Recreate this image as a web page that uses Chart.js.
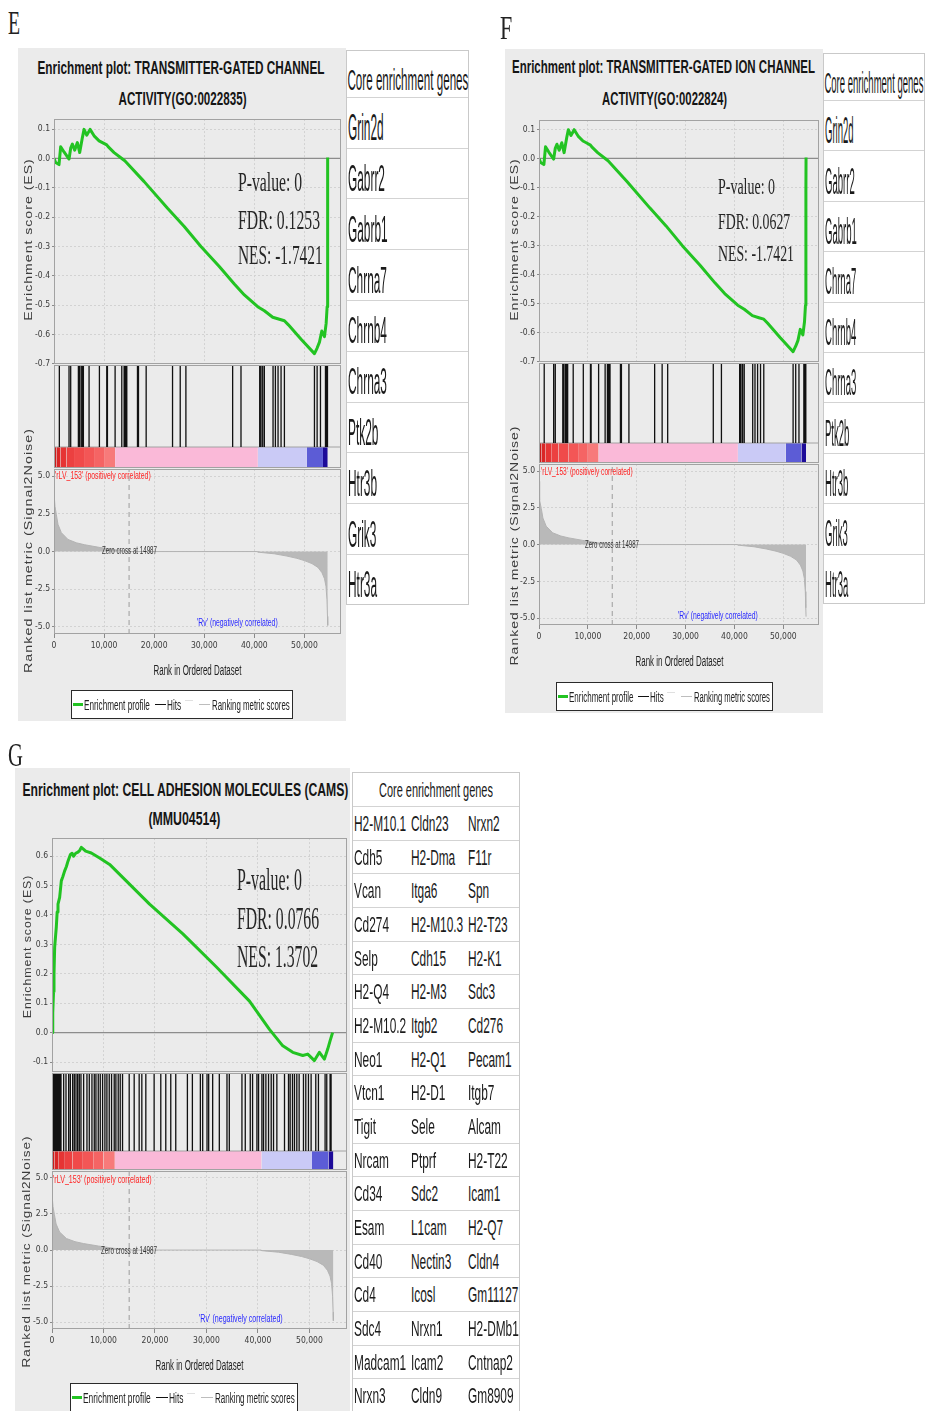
<!DOCTYPE html>
<html>
<head>
<meta charset="utf-8">
<title>GSEA enrichment plots</title>
<script src="https://cdn.jsdelivr.net/npm/chart.js@4.4.1/dist/chart.umd.min.js"></script>
<style>
  html, body { margin: 0; padding: 0; background: #ffffff; }
  body { position: relative; width: 926px; height: 1411px; overflow: hidden; }
  .panel { position: absolute; background: #ebebeb; }
  .t { position: absolute; white-space: nowrap; }
  canvas { position: absolute; }
  .gt { position: absolute; border: 1px solid #c9c9c9; background: #fff; box-sizing: border-box; }
  .rule { position: absolute; height: 0; border-top: 1.5px solid #d3d3d3; }
  .legend { position: absolute; background: #fff; border: 1.5px solid #2a2a2a; box-sizing: border-box; }
</style>
</head>
<body>
<script>
// ---------- ranked gene list (shared by every gene set) ----------
const metricRank  = [0, 60, 200, 470, 800, 1470, 2800, 4470, 6130, 9000, 12000, 14987, 40650, 40700, 44000, 46500, 48500, 50000, 51500, 52700, 53500, 54000, 54300, 54500, 54600, 54650];
const metricScore = [4.3, 3.6, 3.0, 2.45, 1.8, 1.25, 0.8, 0.58, 0.45, 0.28, 0.12, 0, 0, -0.04, -0.15, -0.3, -0.45, -0.6, -0.8, -1.05, -1.4, -1.8, -2.3, -3.2, -4.3, -4.9];
const zeroCross = 14987;
const bandStart = [0, 500, 1300, 2500, 4000, 6000, 8000, 10000, 12200, 40700, 50500, 53700];
const bandEnd   = [500, 1300, 2500, 4000, 6000, 8000, 10000, 12200, 40700, 50500, 53700, 54650];
const bandColor = ['#c81c1c', '#da2626', '#e63434', '#ec4040', '#f04a4a', '#f35656', '#f56464', '#f77a7a', '#fab9d8', '#cacaf6', '#5c5cd6', '#1d0b99'];
const rankTicks = [0, 10000, 20000, 30000, 40000, 50000];
const metricTicks = [5, 2.5, 0, -2.5, -5];

// ---------- E: transmitter-gated channel activity ----------
const channelTitle = ['Enrichment plot: TRANSMITTER-GATED CHANNEL', 'ACTIVITY(GO:0022835)'];
const channelStats = ['P-value: 0', 'FDR: 0.1253', 'NES: -1.7421'];
const channelEsTicks = [0.1, 0, -0.1, -0.2, -0.3, -0.4, -0.5, -0.6, -0.7];
const channelEsRank  = [0, 333, 1000, 1333, 2000, 3000, 3333, 3667, 4133, 4667, 5133, 5667, 6000, 6533, 7200, 8000, 9000, 9667, 10533, 10800, 12000, 13667, 14133, 18000, 22667, 26000, 29333, 33000, 36000, 38000, 40667, 42000, 43667, 45000, 46000, 46800, 49333, 52000, 52533, 53000, 53467, 54000, 54333, 54533, 54620, 54650];
const channelEsScore = [0, -0.014, -0.021, 0.040, 0.022, -0.002, 0.035, 0.049, 0.028, 0.054, 0.020, 0.071, 0.099, 0.079, 0.099, 0.077, 0.060, 0.054, 0.046, 0.040, 0.020, -0.002, -0.008, -0.079, -0.170, -0.232, -0.300, -0.368, -0.428, -0.465, -0.505, -0.519, -0.541, -0.548, -0.553, -0.567, -0.616, -0.665, -0.646, -0.626, -0.588, -0.607, -0.562, -0.505, -0.115, 0.003];
const channelHits = [1067, 3000, 3333, 4867, 5067, 5400, 5667, 5867, 7000, 9067, 10533, 10667, 12200, 13533, 14000, 14200, 14400, 14533, 16667, 16867, 18400, 23667, 25200, 26333, 35667, 37333, 41067, 41333, 41667, 42000, 43733, 44200, 44733, 45333, 46000, 52000, 52533, 53200, 54200, 54400, 54600];
const channelGenes = ['Grin2d', 'Gabrr2', 'Gabrb1', 'Chrna7', 'Chrnb4', 'Chrna3', 'Ptk2b', 'Htr3b', 'Grik3', 'Htr3a'];

// ---------- F: transmitter-gated ion channel activity ----------
const ionTitle = ['Enrichment plot: TRANSMITTER-GATED ION CHANNEL', 'ACTIVITY(GO:0022824)'];
const ionStats = ['P-value: 0', 'FDR: 0.0627', 'NES: -1.7421'];
const ionEsTicks = [0.1, 0, -0.1, -0.2, -0.3, -0.4, -0.5, -0.6, -0.7];
const ionEsRank  = [0, 333, 1000, 1333, 2000, 3000, 3333, 3667, 4133, 4667, 5133, 5667, 6000, 6533, 7200, 8000, 9000, 9667, 10533, 10800, 12000, 13667, 14133, 18000, 22667, 26000, 29333, 33000, 36000, 38000, 40667, 42000, 43667, 45000, 46000, 46800, 49333, 52000, 52533, 53000, 53467, 54000, 54333, 54533, 54620, 54650];
const ionEsScore = [0, -0.014, -0.021, 0.040, 0.022, -0.002, 0.035, 0.049, 0.028, 0.054, 0.020, 0.071, 0.099, 0.079, 0.099, 0.077, 0.060, 0.054, 0.046, 0.040, 0.020, -0.002, -0.008, -0.079, -0.170, -0.232, -0.300, -0.368, -0.428, -0.465, -0.505, -0.519, -0.541, -0.548, -0.553, -0.567, -0.616, -0.665, -0.646, -0.626, -0.588, -0.607, -0.562, -0.505, -0.115, 0.003];
const ionHits = [1067, 3000, 3333, 4867, 5067, 5400, 5667, 5867, 7000, 9067, 10533, 10667, 12200, 13533, 14000, 14200, 14400, 14533, 16667, 16867, 18400, 23667, 25200, 26333, 35667, 37333, 41067, 41333, 41667, 42000, 43733, 44200, 44733, 45333, 46000, 52000, 52533, 53200, 54200, 54400, 54600];
const ionGenes = ['Grin2d', 'Gabrr2', 'Gabrb1', 'Chrna7', 'Chrnb4', 'Chrna3', 'Ptk2b', 'Htr3b', 'Grik3', 'Htr3a'];

// ---------- G: cell adhesion molecules ----------
const camsTitle = ['Enrichment plot: CELL ADHESION MOLECULES (CAMS)', '(MMU04514)'];
const camsStats = ['P-value: 0', 'FDR: 0.0766', 'NES: 1.3702'];
const camsEsTicks = [0.6, 0.5, 0.4, 0.3, 0.2, 0.1, 0, -0.1];
const camsEsRank  = [0, 100, 194, 300, 388, 517, 700, 841, 1000, 1164, 1488, 1811, 2100, 2458, 2800, 3105, 3558, 3900, 4204, 4600, 5045, 5400, 5692, 6100, 6533, 7633, 9250, 11190, 13778, 18952, 25420, 31888, 38357, 42238, 44825, 46766, 48706, 49676, 50970, 51940, 52910, 53557, 54010, 54500];
const camsEsScore = [0, 0.03, 0.067, 0.14, 0.2, 0.29, 0.33, 0.36, 0.41, 0.437, 0.46, 0.516, 0.53, 0.55, 0.565, 0.583, 0.605, 0.61, 0.6, 0.61, 0.614, 0.62, 0.63, 0.624, 0.617, 0.611, 0.594, 0.572, 0.527, 0.437, 0.336, 0.224, 0.107, 0.011, -0.045, -0.067, -0.078, -0.073, -0.095, -0.067, -0.09, -0.056, -0.028, 0.0];
const camsHits = [20, 200, 390, 580, 780, 970, 1160, 1360, 1550, 1750, 2267, 2720, 3236, 3560, 4011, 4335, 4658, 4981, 5304, 5627, 6144, 6790, 7242, 7759, 8211, 8534, 8986, 9374, 9826, 10277, 10665, 11118, 11570, 12087, 12410, 12862, 13250, 13702, 14994, 15963, 16932, 17449, 18224, 19839, 21131, 22100, 23069, 24038, 26299, 27268, 28818, 29270, 30111, 30433, 31208, 32500, 33987, 34439, 36894, 37539, 38508, 38960, 39801, 40123, 40770, 41092, 41545, 42060, 42578, 43029, 43676, 45161, 45937, 46260, 46711, 47099, 47552, 48004, 48843, 49296, 49813, 50330, 51235, 51751, 53045, 53369, 54015, 54209];
const camsGenesA = ['H2-M10.1', 'Cdh5', 'Vcan', 'Cd274', 'Selp', 'H2-Q4', 'H2-M10.2', 'Neo1', 'Vtcn1', 'Tigit', 'Nrcam', 'Cd34', 'Esam', 'Cd40', 'Cd4', 'Sdc4', 'Madcam1', 'Nrxn3'];
const camsGenesB = ['Cldn23', 'H2-Dma', 'Itga6', 'H2-M10.3', 'Cdh15', 'H2-M3', 'Itgb2', 'H2-Q1', 'H2-D1', 'Sele', 'Ptprf', 'Sdc2', 'L1cam', 'Nectin3', 'Icosl', 'Nrxn1', 'Icam2', 'Cldn9'];
const camsGenesC = ['Nrxn2', 'F11r', 'Spn', 'H2-T23', 'H2-K1', 'Sdc3', 'Cd276', 'Pecam1', 'Itgb7', 'Alcam', 'H2-T22', 'Icam1', 'H2-Q7', 'Cldn4', 'Gm11127', 'H2-DMb1', 'Cntnap2', 'Gm8909'];

// ---------- styling ----------
const NARROW = '"Liberation Sans Narrow", "DejaVu Sans Condensed", "Liberation Sans", sans-serif';
const SANS = '"Liberation Sans", Arial, sans-serif';
const SERIF = '"Liberation Serif", "DejaVu Serif", serif';
const GREEN = '#22c322';
const GRID = '#d2d2d2';
const FRAME = '#a2a2a2';
const XMAX = 57300;
const AXW = 30;      // width reserved for y tick labels
const XAH = 22;      // height reserved below the metric plot for tick marks and labels
const METRIC_LIM = 5.47;

// stroke the plot rectangle of every chart
Chart.register({
  id: 'frame',
  afterDraw(chart) {
    const a = chart.chartArea, c = chart.ctx;
    c.save();
    c.strokeStyle = FRAME;
    c.lineWidth = 1;
    c.strokeRect(Math.round(a.left) + 0.5, Math.round(a.top) + 0.5, Math.round(a.right - a.left) - 1, Math.round(a.bottom - a.top) - 1);
    c.restore();
  }
});

function put(str, o) {
  const el = document.createElement('div');
  el.className = 't';
  el.textContent = str;
  el.style.font = o.font;
  el.style.lineHeight = '1';
  el.style.color = o.color || '#111';
  if (o.ls) el.style.letterSpacing = o.ls + 'px';
  document.body.appendChild(el);
  const w = el.offsetWidth, h = el.offsetHeight;
  const sx = o.w ? o.w / w : (o.sx || 1);
  const centred = o.cx !== undefined;
  el.style.left = (centred ? o.cx - w / 2 : o.x) + 'px';
  el.style.top = (o.cy - h / 2) + 'px';
  el.style.transformOrigin = centred ? '50% 50%' : '0 50%';
  el.style.transform = (o.rot ? 'rotate(-90deg) ' : '') + 'scaleX(' + sx + ')';
  return el;
}

function block(cls, x, y, w, h) {
  const d = document.createElement('div');
  d.className = cls;
  Object.assign(d.style, { left: x + 'px', top: y + 'px', width: w + 'px', height: h + 'px' });
  document.body.appendChild(d);
  return d;
}

function canvasAt(x, y, w, h) {
  const c = document.createElement('canvas');
  c.width = Math.round(w);
  c.height = Math.round(h);
  Object.assign(c.style, { left: x + 'px', top: y + 'px', width: Math.round(w) + 'px', height: Math.round(h) + 'px' });
  document.body.appendChild(c);
  return c;
}

function baseOptions(extra) {
  return Object.assign({
    responsive: false,
    animation: false,
    events: [],
    plugins: { legend: { display: false }, tooltip: { enabled: false } },
    elements: { point: { radius: 0 }, line: { tension: 0 } }
  }, extra);
}

const tickFont = { family: NARROW, size: 8.5 };

function rankAxis(showLabels) {
  return {
    type: 'linear', min: 0, max: XMAX,
    afterBuildTicks: s => { s.ticks = rankTicks.map(v => ({ value: v })); },
    afterFit: s => { s.height = showLabels ? XAH : 0; },
    grid: { color: GRID, drawTicks: showLabels, tickLength: 4, tickColor: '#8a8a8a' },
    border: { display: false, dash: [2, 2] },
    ticks: { display: showLabels, font: tickFont, color: '#3a3a3a', padding: 3, autoSkip: false, maxRotation: 0,
             callback: v => v.toLocaleString('en-US') }
  };
}

function valueAxis(min, max, ticks) {
  return {
    type: 'linear', min: min, max: max,
    afterFit: s => { s.width = AXW; },
    afterBuildTicks: s => { s.ticks = ticks.map(v => ({ value: v })); },
    grid: { color: GRID, tickLength: 2, tickColor: '#8a8a8a' },
    border: { display: false, dash: [2, 2] },
    ticks: { font: tickFont, color: '#3a3a3a', padding: 2, callback: v => v.toFixed(1) }
  };
}

function esChart(L, D) {
  const pw = L.right - L.left, ph = L.esBottom - L.esTop;
  const cv = canvasAt(L.left - AXW, L.esTop - 6, pw + AXW + 2, ph + 12);
  new Chart(cv, {
    type: 'line',
    data: { datasets: [
      { data: D.esRank.map((r, i) => ({ x: r, y: D.esScore[i] })), borderColor: GREEN, borderWidth: 3, borderJoinStyle: 'round', pointRadius: 0, order: 0 },
      { data: [{ x: 0, y: 0 }, { x: XMAX, y: 0 }], borderColor: '#8c8c8c', borderWidth: 1.3, pointRadius: 0, order: 1 }
    ] },
    options: baseOptions({
      layout: { padding: { top: 6, right: 2, bottom: 6, left: 0 } },
      scales: { x: rankAxis(false), y: valueAxis(L.esMin, L.esMax, D.esTicks) }
    })
  });
}

function hitsChart(L, D) {
  const pw = L.right - L.left, ph = L.bandBottom - L.esBottom;
  const yMax = ph / (L.bandBottom - L.hitsBottom);   // colour band occupies y 0..1
  const cv = canvasAt(L.left, L.esBottom, pw, ph);
  const hitPoints = [];
  D.hits.forEach(h => { hitPoints.push({ x: h, y: 1 }, { x: h, y: yMax }, { x: h, y: null }); });
  const datasets = [
    { data: hitPoints, borderColor: '#111', borderWidth: 1.3, spanGaps: false, pointRadius: 0, order: 0 },
    { data: [{ x: 0, y: 1 }, { x: XMAX, y: 1 }], borderColor: FRAME, borderWidth: 1, pointRadius: 0, order: 1 }
  ];
  bandStart.forEach((s, i) => {
    datasets.push({ data: [{ x: s, y: 1 }, { x: bandEnd[i], y: 1 }], fill: 'origin', backgroundColor: bandColor[i], borderWidth: 0, pointRadius: 0, order: 2 });
  });
  new Chart(cv, {
    type: 'line',
    data: { datasets },
    options: baseOptions({
      layout: { padding: 0 },
      scales: {
        x: { type: 'linear', display: false, min: 0, max: XMAX },
        y: { type: 'linear', display: false, min: 0, max: yMax }
      }
    })
  });
}

function metricChart(L) {
  const pw = L.right - L.left, ph = L.metricBottom - L.bandBottom;
  const cv = canvasAt(L.left - AXW, L.bandBottom - 6, pw + AXW + 2, ph + 6 + XAH);
  new Chart(cv, {
    type: 'line',
    data: { datasets: [
      { data: metricRank.map((r, i) => ({ x: r, y: metricScore[i] })), fill: 'origin', backgroundColor: '#b9b9b9', borderColor: '#b3b3b3', borderWidth: 1, pointRadius: 0, order: 1 },
      { data: [{ x: zeroCross, y: -METRIC_LIM }, { x: zeroCross, y: METRIC_LIM }], borderColor: '#9c9c9c', borderWidth: 1, borderDash: [5, 4], pointRadius: 0, order: 0 }
    ] },
    options: baseOptions({
      layout: { padding: { top: 6, right: 2, bottom: 0, left: 0 } },
      scales: { x: rankAxis(true), y: valueAxis(-METRIC_LIM, METRIC_LIM, metricTicks) }
    })
  });
}

function legend(x, y, w, h) {
  block('legend', x, y, w, h);
  const k = w / 222, cy = y + h / 2;
  const seg = (a, b, color, thick, dy) => {
    const s = block('t', x + a * k, cy + (dy || 0) - thick / 2, (b - a) * k, thick);
    s.style.background = color;
  };
  const f = '14px ' + SANS;
  seg(2, 12, GREEN, 3);
  put('Enrichment profile', { font: f, x: x + 13 * k, cy: cy, w: 66 * k, color: '#222' });
  seg(84, 95, '#111', 1.5);
  put('Hits', { font: f, x: x + 96 * k, cy: cy, w: 14 * k, color: '#222' });
  seg(114, 122, '#e0e0e0', 1, -4);
  seg(128, 139, '#bdbdbd', 1.5);
  put('Ranking metric scores', { font: f, x: x + 141 * k, cy: cy, w: 78 * k, color: '#222' });
}

function geneTable(o) {
  const n = o.cols[0].length;
  block('gt', o.x, o.y, o.w, o.headH + n * o.rowH);
  for (let i = 0; i < n; i++) {
    block('rule', o.x + 1, o.y + o.headH + i * o.rowH, o.w - 2, 0);
  }
  put(o.header, { font: o.headFont, cx: o.x + o.w / 2, cy: o.y + o.headH * o.headY, w: o.headW, color: '#1a1a1a' });
  o.cols.forEach((col, j) => col.forEach((g, i) => {
    put(g, { font: o.font, x: o.x + o.colX[j], cy: o.y + o.headH + i * o.rowH + o.rowH * o.textY, sx: o.sx, color: '#1a1a1a' });
  }));
}

function buildPanel(L, D) {
  block('panel', L.bg[0], L.bg[1], L.bg[2], L.bg[3]);
  esChart(L, D);
  hitsChart(L, D);
  metricChart(L);
  put(D.title[0], { font: 'bold 19px ' + SANS, cx: L.t1[0], cy: L.t1[1], w: L.t1[2], color: '#151515' });
  put(D.title[1], { font: 'bold 19px ' + SANS, cx: L.t2[0], cy: L.t2[1], w: L.t2[2], color: '#151515' });
  D.stats.forEach((s, i) => put(s, { font: L.statSize + 'px ' + SERIF, x: L.statX, cy: L.statY[i], w: L.statW[i], color: '#262626' }));
  put('Enrichment score (ES)', { font: '11px ' + SANS, ls: 0.8, cx: L.esTitle[0], cy: L.esTitle[1], w: L.esTitle[2], rot: true, color: '#3a3a3a' });
  put('Ranked list metric (Signal2Noise)', { font: '11px ' + SANS, ls: 0.8, cx: L.mTitle[0], cy: L.mTitle[1], w: L.mTitle[2], rot: true, color: '#3a3a3a' });
  put('Rank in Ordered Dataset', { font: '14px ' + SANS, cx: (L.left + L.right) / 2, cy: L.metricBottom + 36, w: 88, color: '#222' });
  put("'rLV_153' (positively correlated)", { font: '11px ' + SANS, x: L.pos[0], cy: L.pos[1], w: L.pos[2], color: '#ff2424' });
  put("'Rv' (negatively correlated)", { font: '11px ' + SANS, x: L.neg[0], cy: L.neg[1], w: L.neg[2], color: '#2828ff' });
  put('Zero cross at ' + zeroCross, { font: '10px ' + SANS, x: L.zero[0], cy: L.zero[1], w: L.zero[2], color: '#333' });
  legend(L.legend[0], L.legend[1], L.legend[2], L.legend[3]);
}

// ---------- page layout ----------
buildPanel({
  bg: [18, 48, 328, 673], left: 54, right: 341, esTop: 118, esBottom: 365, hitsBottom: 447, bandBottom: 468, metricBottom: 634,
  esMin: -0.7, esMax: 0.134, t1: [180.5, 67, 287], t2: [182.5, 98, 128],
  statSize: 27, statX: 238, statY: [182, 220, 255.5], statW: [64, 82, 85],
  esTitle: [28, 239, 162], mTitle: [28, 550.5, 245],
  pos: [55.3, 475, 96], neg: [197, 622, 81], zero: [102, 551, 55], legend: [71, 690, 222, 29]
}, { title: channelTitle, stats: channelStats, esTicks: channelEsTicks, esRank: channelEsRank, esScore: channelEsScore, hits: channelHits });

buildPanel({
  bg: [505, 49, 318, 664], left: 539, right: 819, esTop: 119, esBottom: 363, hitsBottom: 443, bandBottom: 463, metricBottom: 625,
  esMin: -0.7, esMax: 0.132, t1: [663.5, 66.5, 303], t2: [664, 98, 125],
  statSize: 24, statX: 718, statY: [185.5, 221, 253], statW: [57, 72, 76],
  esTitle: [514, 239, 162], mTitle: [514, 545, 240],
  pos: [541, 471.5, 92], neg: [678, 615, 80], zero: [585, 545, 54], legend: [556, 682, 217, 29]
}, { title: ionTitle, stats: ionStats, esTicks: ionEsTicks, esRank: ionEsRank, esScore: ionEsScore, hits: ionHits });

buildPanel({
  bg: [15, 768, 335, 643], left: 52, right: 347, esTop: 837, esBottom: 1073, hitsBottom: 1151, bandBottom: 1170, metricBottom: 1329,
  esMin: -0.1336, esMax: 0.6615, t1: [185, 789, 326], t2: [184, 818, 72],
  statSize: 32, statX: 237, statY: [879, 917.5, 956], statW: [65, 82, 81],
  esTitle: [27, 946, 143], mTitle: [26.5, 1251, 232],
  pos: [53, 1179.5, 99], neg: [199, 1318.5, 84], zero: [101, 1251, 56], legend: [70, 1383, 228, 29]
}, { title: camsTitle, stats: camsStats, esTicks: camsEsTicks, esRank: camsEsRank, esScore: camsEsScore, hits: camsHits });

// core enrichment gene tables
geneTable({ x: 346, y: 50, w: 123, headH: 46.7, rowH: 50.8, header: 'Core enrichment genes', headFont: '30px ' + SANS, headW: 121, headY: 0.64,
  cols: [channelGenes], colX: [1.5], font: '36px ' + SANS, sx: 0.33, textY: 0.62 });
geneTable({ x: 823, y: 53, w: 102, headH: 47, rowH: 50.4, header: 'Core enrichment genes', headFont: '30px ' + SANS, headW: 99, headY: 0.64,
  cols: [ionGenes], colX: [1.5], font: '36px ' + SANS, sx: 0.265, textY: 0.62 });
geneTable({ x: 352, y: 772, w: 168, headH: 34, rowH: 33.67, header: 'Core enrichment genes', headFont: '20px ' + SANS, headW: 114, headY: 0.52,
  cols: [camsGenesA, camsGenesB, camsGenesC], colX: [2, 59, 115.5], font: '22px ' + SANS, sx: 0.54, textY: 0.53 });

// panel letters
put('E', { font: '33px ' + SERIF, x: 8, cy: 23, w: 12, color: '#222' });
put('F', { font: '33px ' + SERIF, x: 500, cy: 28.5, w: 12, color: '#222' });
put('G', { font: '33px ' + SERIF, x: 8, cy: 755, w: 15, color: '#222' });
</script>
</body>
</html>
